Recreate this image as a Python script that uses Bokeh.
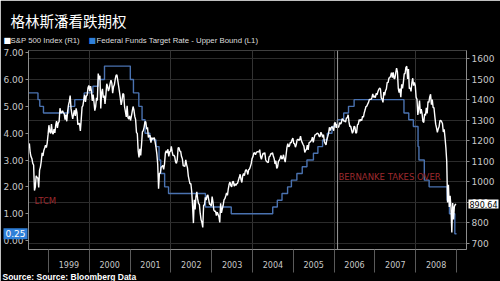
import pandas as pd
from bokeh.plotting import figure
from bokeh.models import Range1d, LinearAxis, FixedTicker, Span, Label, GridBox
from bokeh.embed import file_html
from bokeh.resources import INLINE

title_text = "格林斯潘看跌期权"
legend_sp = "S&P 500 Index (R1)"
legend_fed = "Federal Funds Target Rate - Upper Bound (L1)"
source_text = "Source: Source: Bloomberg Data"

year_labels = ["1999", "2000", "2001", "2002", "2003", "2004", "2005", "2006", "2007", "2008"]
left_ticks = [0, 1, 2, 3, 4, 5, 6, 7]
right_ticks = [700, 800, 900, 1000, 1100, 1200, 1300, 1400, 1500, 1600]

# S&P 500, approx weekly closes (4 per month); 1998 starts in July
sp_1998 = [1165, 1186, 1141, 1121, 1112, 1089, 1081, 957, 973, 1029, 1020, 1017,
           972, 1056, 1071, 1099, 1141, 1125, 1152, 1164, 1177, 1166, 1189, 1229]
sp_1999 = [1275, 1243, 1235, 1280, 1239, 1231, 1256, 1238, 1275, 1295, 1262, 1286,
           1293, 1358, 1336, 1335, 1345, 1337, 1330, 1302, 1327, 1294, 1342, 1373,
           1391, 1419, 1357, 1329, 1306, 1330, 1348, 1320, 1357, 1336, 1277, 1283,
           1283, 1247, 1302, 1363, 1370, 1397, 1423, 1389, 1417, 1422, 1458, 1469]
sp_2000 = [1441, 1465, 1441, 1394, 1424, 1389, 1346, 1366, 1409, 1395, 1527, 1499,
           1516, 1357, 1434, 1452, 1409, 1420, 1379, 1421, 1477, 1465, 1441, 1455,
           1478, 1495, 1480, 1431, 1462, 1472, 1499, 1518, 1521, 1494, 1466, 1437,
           1408, 1374, 1396, 1429, 1426, 1365, 1341, 1315, 1369, 1312, 1305, 1320]
sp_2001 = [1298, 1318, 1342, 1366, 1350, 1318, 1302, 1240, 1234, 1150, 1118, 1160,
           1128, 1183, 1243, 1249, 1266, 1292, 1291, 1256, 1265, 1215, 1225, 1224,
           1190, 1215, 1206, 1211, 1214, 1191, 1167, 1134, 1085, 966, 1040, 1041,
           1071, 1073, 1079, 1060, 1087, 1139, 1150, 1139, 1158, 1123, 1145, 1148]
sp_2002 = [1172, 1146, 1127, 1130, 1122, 1096, 1089, 1107, 1164, 1166, 1149, 1147,
           1122, 1111, 1077, 1077, 1074, 1106, 1083, 1067, 1027, 1007, 989, 990,
           952, 881, 798, 912, 865, 928, 950, 916, 893, 889, 845, 815,
           800, 777, 885, 886, 923, 910, 930, 936, 912, 889, 890, 880]
sp_2003 = [927, 901, 861, 856, 856, 834, 851, 841, 829, 801, 895, 848,
           868, 885, 911, 917, 930, 945, 933, 964, 987, 998, 981, 975,
           999, 1001, 978, 990, 981, 990, 993, 1008, 1021, 1036, 1010, 996,
           1029, 1039, 1029, 1051, 1059, 1051, 1035, 1058, 1062, 1074, 1088, 1112]
sp_2004 = [1121, 1139, 1141, 1131, 1142, 1146, 1145, 1145, 1156, 1121, 1109, 1126,
           1139, 1135, 1141, 1107, 1098, 1096, 1093, 1121, 1123, 1136, 1135, 1141,
           1125, 1112, 1086, 1102, 1064, 1072, 1099, 1104, 1114, 1128, 1110, 1115,
           1131, 1109, 1095, 1130, 1166, 1185, 1170, 1174, 1191, 1189, 1204, 1212]
sp_2005 = [1187, 1184, 1168, 1181, 1203, 1207, 1201, 1204, 1222, 1200, 1190, 1181,
           1173, 1142, 1153, 1157, 1178, 1155, 1189, 1192, 1197, 1201, 1217, 1191,
           1212, 1228, 1229, 1234, 1236, 1232, 1220, 1220, 1241, 1231, 1216, 1229,
           1196, 1186, 1179, 1207, 1220, 1235, 1265, 1249, 1263, 1268, 1260, 1248]
sp_2006 = [1285, 1288, 1262, 1280, 1265, 1267, 1288, 1281, 1287, 1307, 1302, 1295,
           1296, 1290, 1311, 1311, 1326, 1291, 1268, 1270, 1253, 1236, 1245, 1270,
           1266, 1236, 1240, 1277, 1280, 1302, 1295, 1304, 1298, 1319, 1314, 1336,
           1350, 1366, 1368, 1378, 1386, 1401, 1401, 1401, 1409, 1427, 1411, 1418]
sp_2007 = [1409, 1430, 1423, 1438, 1449, 1456, 1452, 1407, 1402, 1386, 1436, 1421,
           1443, 1452, 1484, 1482, 1505, 1506, 1515, 1531, 1507, 1533, 1503, 1503,
           1530, 1553, 1535, 1455, 1434, 1453, 1411, 1474, 1454, 1484, 1525, 1527,
           1557, 1562, 1500, 1549, 1453, 1458, 1440, 1481, 1504, 1468, 1484, 1468]
sp_2008 = [1411, 1401, 1325, 1356, 1395, 1331, 1353, 1331, 1294, 1288, 1330, 1323,
           1360, 1332, 1390, 1386, 1413, 1426, 1375, 1400, 1361, 1360, 1318, 1280,
           1262, 1240, 1257, 1267, 1297, 1298, 1292, 1283, 1242, 1255, 1213, 1166,
           1099, 899, 985, 877, 931, 873, 752, 896, 816, 879, 888, 890.64]

sp_series = [(1998, 7, sp_1998), (1999, 1, sp_1999), (2000, 1, sp_2000), (2001, 1, sp_2001),
             (2002, 1, sp_2002), (2003, 1, sp_2003), (2004, 1, sp_2004), (2005, 1, sp_2005),
             (2006, 1, sp_2006), (2007, 1, sp_2007), (2008, 1, sp_2008)]

fed_dates = ["1998-07-01", "1998-09-29", "1998-10-15", "1998-11-17", "1999-06-30", "1999-08-24",
             "1999-11-16", "2000-02-02", "2000-03-21", "2000-05-16", "2001-01-03", "2001-01-31",
             "2001-03-20", "2001-04-18", "2001-05-15", "2001-06-27", "2001-08-21", "2001-09-17",
             "2001-10-02", "2001-11-06", "2001-12-11", "2002-11-06", "2003-06-25", "2004-06-30",
             "2004-08-10", "2004-09-21", "2004-11-10", "2004-12-14", "2005-02-02", "2005-03-22",
             "2005-05-03", "2005-06-30", "2005-08-09", "2005-09-20", "2005-11-01", "2005-12-13",
             "2006-01-31", "2006-03-28", "2006-05-10", "2006-06-29", "2007-09-18", "2007-10-31",
             "2007-12-11", "2008-01-22", "2008-01-30", "2008-03-18", "2008-04-30", "2008-10-08",
             "2008-10-29", "2008-12-16", "2008-12-31"]
fed_rates = [5.50, 5.25, 5.00, 4.75, 5.00, 5.25, 5.50, 5.75, 6.00, 6.50, 6.00, 5.50,
             5.00, 4.50, 4.00, 3.75, 3.50, 3.00, 2.50, 2.00, 1.75, 1.25, 1.00, 1.25,
             1.50, 1.75, 2.00, 2.25, 2.50, 2.75, 3.00, 3.25, 3.50, 3.75, 4.00, 4.25,
             4.50, 4.75, 5.00, 5.25, 4.75, 4.50, 4.25, 3.50, 3.00, 2.25, 2.00, 1.50,
             1.00, 0.25, 0.25]

last_fed = 0.25
last_sp = 890.64
bernanke_date = "2006-02-01"


def dec_year(s):
    t = pd.Timestamp(s)
    return t.year + (t.dayofyear - 1) / 365.0


sp_x, sp_y = [], []
for yr, m0, vals in sp_series:
    for i, v in enumerate(vals):
        month = m0 + i // 4
        wk = i % 4
        sp_x.append(yr + (month - 1) / 12 + (wk + 0.5) / 48)
        sp_y.append(v)

fed_x = [dec_year(d) for d in fed_dates]

BG = "#000000"
AX = "#8c8c8c"
TXT = "#c8c8c8"
FONT = "DejaVu Sans"
LFONT = "Liberation Sans"
BLUE_FLAG = "#2f7fd8"
W, H = 500, 281
B_LEFT, B_RIGHT, B_TOP, B_BOTTOM = 28, 34, 50, 32

X0, X1 = 1998.51, 2009.245
SP0, SP1 = 669.3, 1639.1
FED0, FED1 = -0.335, 7.081

# ---------- main chart ----------
p = figure(width=W, height=H, output_backend="svg", toolbar_location=None,
           x_range=Range1d(X0, X1), y_range=Range1d(SP0, SP1),
           y_axis_location="right",
           min_border_left=B_LEFT, min_border_right=B_RIGHT,
           min_border_top=B_TOP, min_border_bottom=B_BOTTOM)
p.background_fill_color = BG
p.border_fill_color = BG
p.outline_line_color = None
p.extra_y_ranges = {"fed": Range1d(FED0, FED1)}


def style_y(ax):
    ax.axis_line_color = AX
    ax.major_tick_line_color = AX
    ax.major_tick_out = 3
    ax.major_tick_in = 0
    ax.minor_tick_line_color = None
    ax.major_label_text_color = TXT
    ax.major_label_text_font = FONT
    ax.major_label_text_font_size = "9px"
    ax.major_label_standoff = 2


ra = p.yaxis[0]
ra.ticker = FixedTicker(ticks=right_ticks)
ra.major_label_overrides = {t: str(t) for t in right_ticks}
style_y(ra)

la = LinearAxis(y_range_name="fed", ticker=FixedTicker(ticks=left_ticks))
la.major_label_overrides = {t: "%.2f" % t for t in left_ticks}
style_y(la)
p.add_layout(la, "left")

# bottom axis with year labels centred between separators
xa = p.xaxis[0]
mids = [int(y) + 0.5 for y in year_labels]
bounds = [int(y) for y in year_labels] + [int(year_labels[-1]) + 1]
xa.ticker = FixedTicker(ticks=mids, minor_ticks=bounds)
xa.major_label_overrides = {m: lab for m, lab in zip(mids, year_labels)}
xa.axis_line_color = AX
xa.major_tick_line_color = None
xa.major_tick_out = 0
xa.major_tick_in = 0
xa.minor_tick_line_color = "#5a5a5a"
xa.minor_tick_out = 23
xa.minor_tick_in = 0
xa.major_label_text_color = TXT
xa.major_label_text_font = FONT
xa.major_label_text_font_size = "8px"
xa.major_label_standoff = -12

p.xgrid.ticker = FixedTicker(ticks=[2000, 2002, 2004, 2006, 2008])
p.xgrid.grid_line_color = "#333333"
p.ygrid.ticker = FixedTicker(ticks=right_ticks)
p.ygrid.grid_line_color = "#2b2b2b"

p.add_layout(Span(location=dec_year(bernanke_date), dimension="height",
                  line_color="#9a9a9a", line_width=1))

p.step(fed_x, fed_rates, mode="after", y_range_name="fed", line_color="#4a72b0", line_width=1.4)
p.line(sp_x, sp_y, line_color="#ffffff", line_width=1.4)

p.add_layout(Label(x=1998.66, y=1.49, y_range_name="fed", text="LTCM", text_color="#9c2a2e",
                   text_font=FONT, text_font_size="8.5px", text_baseline="middle"))
p.add_layout(Label(x=dec_year(bernanke_date) + 0.02, y=1025, text="BERNANKE TAKES OVER",
                   text_color="#9c2a2e", text_font=FONT, text_font_size="8.5px",
                   text_baseline="middle"))

# ---------- transparent overlay for texts outside the plot frame ----------
ov = figure(width=W, height=H, output_backend="svg", toolbar_location=None,
            x_range=Range1d(0, W), y_range=Range1d(H, 0),
            x_axis_type=None, y_axis_type=None,
            min_border_left=0, min_border_right=0, min_border_top=0, min_border_bottom=0)
ov.background_fill_color = None
ov.border_fill_color = None
ov.outline_line_color = None
ov.grid.visible = False

if "frame_align" in type(p).properties():
    p.frame_align = False
    ov.frame_align = False

frame_h = H - B_TOP - B_BOTTOM


def y_fed(v):
    return H - B_BOTTOM - (v - FED0) / (FED1 - FED0) * frame_h


def y_sp(v):
    return H - B_BOTTOM - (v - SP0) / (SP1 - SP0) * frame_h


ov.add_layout(Label(x=10, y=20, text=title_text, text_color="#ffffff",
                    text_font="Noto Sans CJK SC", text_font_size="14.5px", text_baseline="middle"))
ov.add_layout(Label(x=3, y=39.5, text="■", text_color="#ffffff", text_font=FONT,
                    text_font_size="8px", text_baseline="middle"))
ov.add_layout(Label(x=10, y=39.5, text=legend_sp, text_color="#dddddd", text_font=LFONT,
                    text_font_size="7.8px", text_baseline="middle"))
ov.add_layout(Label(x=88, y=39.5, text="■", text_color=BLUE_FLAG, text_font=FONT,
                    text_font_size="8px", text_baseline="middle"))
ov.add_layout(Label(x=96, y=39.5, text=legend_fed, text_color="#dddddd", text_font=LFONT,
                    text_font_size="7.8px", text_baseline="middle"))
ov.add_layout(Label(x=2, y=276, text=source_text, text_color="#ffffff", text_font=LFONT,
                    text_font_size="8.5px", text_font_style="bold", text_baseline="middle"))
ov.add_layout(Label(x=3, y=y_fed(last_fed), text="%.2f" % last_fed, text_color="#ffffff",
                    text_font=FONT, text_font_size="9px", text_baseline="middle",
                    background_fill_color=BLUE_FLAG, padding=2))
ov.add_layout(Label(x=468, y=y_sp(last_sp), text="%.2f" % last_sp, text_color="#000000",
                    text_font=FONT, text_font_size="8px", text_baseline="middle",
                    background_fill_color="#ffffff", padding=1))

layout = GridBox(children=[(p, 0, 0), (ov, 0, 0)], spacing=0)
open("out.html", "w").write(file_html(layout, INLINE))
